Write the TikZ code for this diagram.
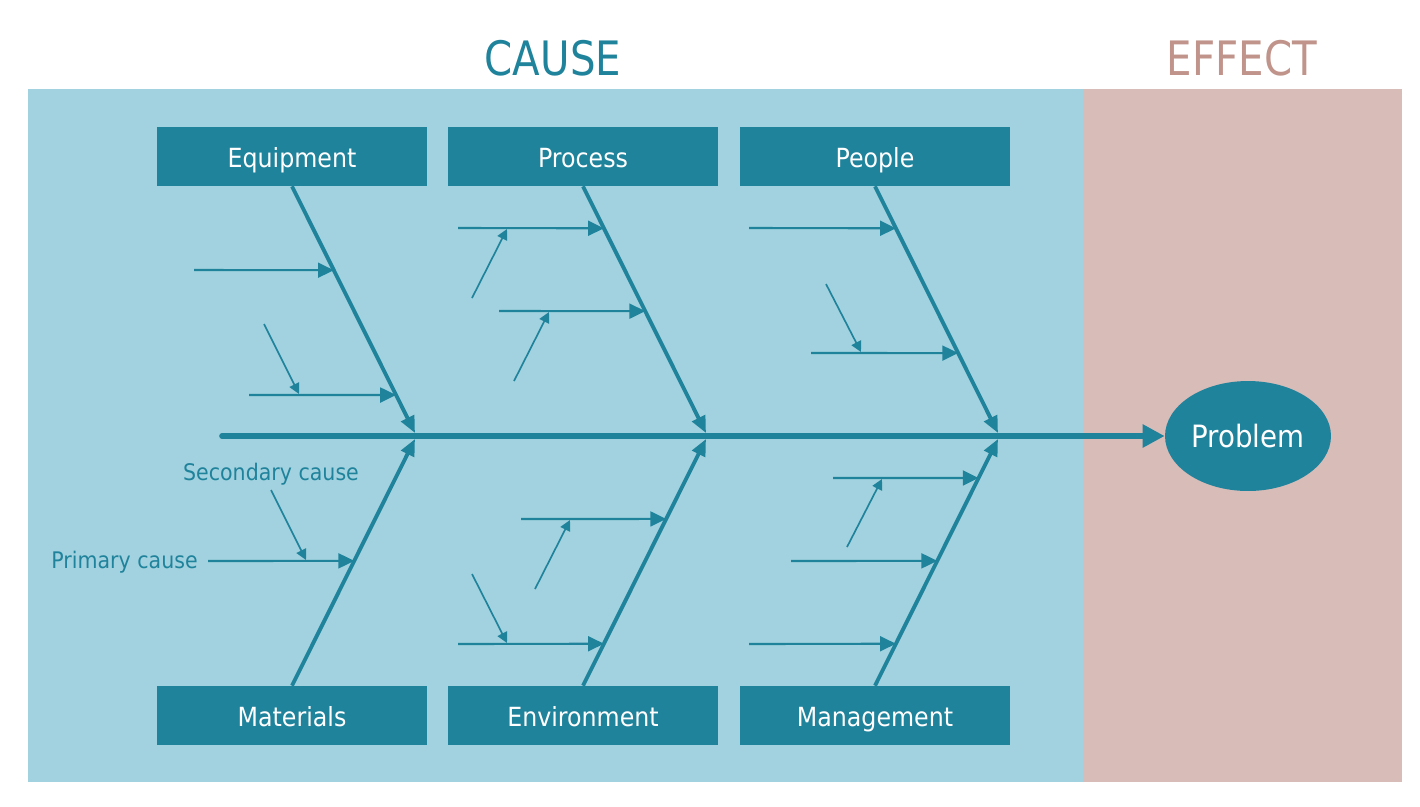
\documentclass[tikz,border=0pt]{standalone}
\usepackage{fontspec}
\setmainfont[FakeStretch=0.9]{DejaVu Sans}
\newfontfamily\titlefont[FakeStretch=0.85]{DejaVu Sans}
\usetikzlibrary{arrows.meta,shapes.geometric,calc}

\definecolor{fishteal}{HTML}{20839C}
\definecolor{causebg}{HTML}{A2D2DF}
\definecolor{effectbg}{HTML}{D8BCB8}
\definecolor{effecttext}{HTML}{C0948B}

\tikzset{
  catbox/.style={fill=fishteal, text=white, minimum width=5.4cm, minimum height=1.18cm,
    inner sep=0pt, text height=13pt, text depth=1pt, font=\fontsize{15}{17}\selectfont},
  spine/.style={draw=fishteal, line width=3.2pt, line cap=round,
    -{Triangle[length=12.5pt,width=12.5pt]}},
  bone/.style={draw=fishteal, line width=2.2pt, -{Triangle[length=9.5pt,width=8pt]}},
  primary/.style={draw=fishteal, line width=1.2pt, -{Triangle[length=9pt,width=8.5pt]}},
  secondary/.style={draw=fishteal, line width=0.95pt, -{Triangle[length=6pt,width=6pt]}},
  note/.style={text=fishteal, inner sep=0pt, font=\fontsize{13}{15}\selectfont}
}

\begin{document}
\begin{tikzpicture}[x=0.02cm,y=-0.02cm]
\useasboundingbox (0,0) rectangle (1420,806);

\fill[causebg] (28,89) rectangle (1083,782);
\fill[effectbg] (1083,89) rectangle (1402,782);

\node[text=fishteal, font=\titlefont\fontsize{27}{30}\selectfont] (cause) at (553,58) {CAUSE};
\node[text=effecttext, font=\titlefont\fontsize{27}{30}\selectfont] (effect) at (1242,58) {EFFECT};

% categories
\node[catbox] (equip) at (292,156.5) {Equipment};
\node[catbox] (proc) at (583,156.5) {Process};
\node[catbox] (people) at (875,156.5) {People};
\node[catbox] (mat) at (292,715.5) {Materials};
\node[catbox] (env) at (583,715.5) {Environment};
\node[catbox] (mgmt) at (875,715.5) {Management};

\node[ellipse, fill=fishteal, text=white, minimum width=3.32cm, minimum height=2.2cm,
  inner sep=0pt, font=\fontsize{17.5}{19}\selectfont] (prob) at (1248,436) {Problem};

% spine and bones
\coordinate (tail) at (222,436);
\coordinate (t1) at (415,433);
\coordinate (t2) at (706,433);
\coordinate (t3) at (998,433);
\coordinate (b1) at (415,439);
\coordinate (b2) at (706,439);
\coordinate (b3) at (998,439);

\draw[spine] (tail) -- (prob.west);
\draw[bone] (equip.south) -- (t1);
\draw[bone] (proc.south) -- (t2);
\draw[bone] (people.south) -- (t3);
\draw[bone] (mat.north) -- (b1);
\draw[bone] (env.north) -- (b2);
\draw[bone] (mgmt.north) -- (b3);

% primary causes
\coordinate (p1) at (194,270);
\coordinate (p2) at (249,395);
\coordinate (p3) at (458,228);
\coordinate (p4) at (499,311);
\coordinate (p5) at (749,228);
\coordinate (p6) at (811,353);
\coordinate (p7) at (208,561);
\coordinate (p8) at (521,519);
\coordinate (p9) at (458,644);
\coordinate (p10) at (833,478);
\coordinate (p11) at (791,561);
\coordinate (p12) at (749,644);

\draw[primary] (p1) -- ($(equip.south)!0.34!(t1)$);
\draw[primary] (p2) -- ($(equip.south)!0.846!(t1)$);
\draw[primary] (p3) -- ($(proc.south)!0.17!(t2)$);
\draw[primary] (p4) -- ($(proc.south)!0.506!(t2)$);
\draw[primary] (p5) -- ($(people.south)!0.17!(t3)$);
\draw[primary] (p6) -- ($(people.south)!0.676!(t3)$);
\draw[primary] (p7) -- ($(mat.north)!0.506!(b1)$);
\draw[primary] (p8) -- ($(env.north)!0.676!(b2)$);
\draw[primary] (p9) -- ($(env.north)!0.17!(b2)$);
\draw[primary] (p10) -- ($(mgmt.north)!0.842!(b3)$);
\draw[primary] (p11) -- ($(mgmt.north)!0.506!(b3)$);
\draw[primary] (p12) -- ($(mgmt.north)!0.17!(b3)$);

% secondary causes
\coordinate (s1) at (264,324);
\coordinate (s2) at (472,298);
\coordinate (s3) at (514,381);
\coordinate (s4) at (826,284);
\coordinate (s5) at (271,490);
\coordinate (s6) at (535,589);
\coordinate (s7) at (472,574);
\coordinate (s8) at (847,547);

\draw[secondary] (s1) -- ++(35,70);
\draw[secondary] (s2) -- ++(35,-69);
\draw[secondary] (s3) -- ++(35,-69);
\draw[secondary] (s4) -- ++(35,68);
\draw[secondary] (s5) -- ++(35,70);
\draw[secondary] (s6) -- ++(35,-69);
\draw[secondary] (s7) -- ++(35,69);
\draw[secondary] (s8) -- ++(35,-68);

\node[note, anchor=east] (primlbl) at (198,562) {Primary cause};
\node[note] (seclbl) at (271,474) {Secondary cause};
\end{tikzpicture}
\end{document}
